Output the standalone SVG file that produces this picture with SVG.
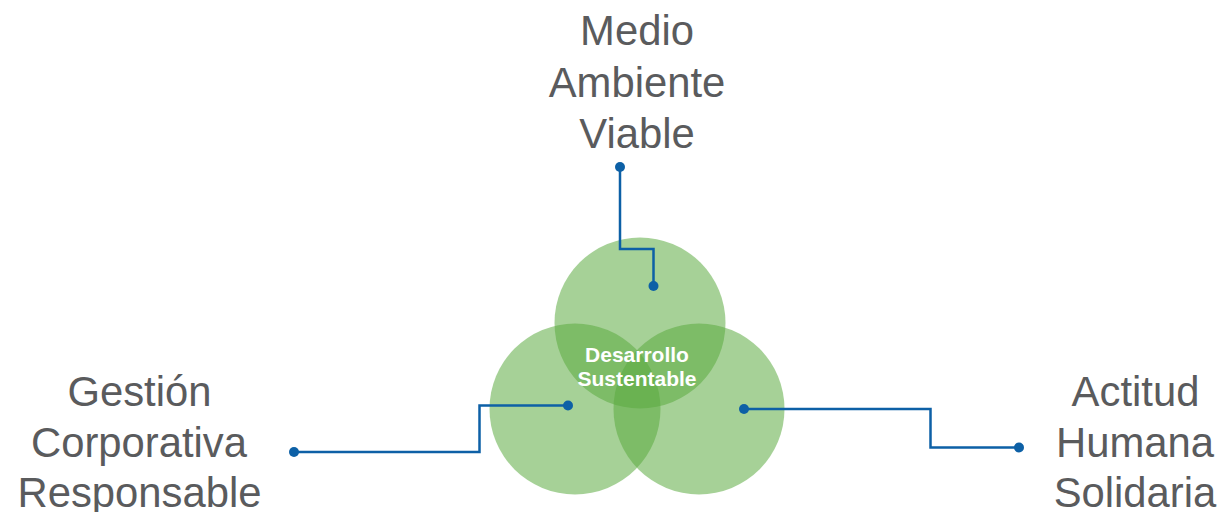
<svg xmlns="http://www.w3.org/2000/svg" width="1222" height="512" viewBox="0 0 1222 512">
<style>
.lbl{font-family:"Liberation Sans",Arial,sans-serif;font-size:41.8px;fill:#5a5b5d;text-anchor:middle}
.ctr{font-family:"Liberation Sans",Arial,sans-serif;font-size:21px;font-weight:bold;fill:#ffffff;text-anchor:middle}
.circ{fill:rgb(90,170,62);fill-opacity:0.54}
.con{fill:none;stroke:#0d60a6;stroke-width:2.5}
.dot{fill:#0d60a6}
</style>
<rect width="1222" height="512" fill="#ffffff"/>
<g id="venn">
<circle class="circ" cx="640" cy="323" r="85.5"/>
<circle class="circ" cx="575" cy="409" r="85.5"/>
<circle class="circ" cx="699" cy="409" r="85.5"/>
</g>
<g id="center">
<text class="ctr" x="637" y="362">Desarrollo</text>
<text class="ctr" x="637" y="386">Sustentable</text>
</g>
<g id="connectors">
<polyline class="con" points="620,168 620,249 653.5,249 653.5,286"/>
<circle class="dot" cx="620" cy="167" r="5"/>
<circle class="dot" cx="653.5" cy="286" r="5"/>
<polyline class="con" points="294,452 479.5,452 479.5,405.5 568,405.5"/>
<circle class="dot" cx="294" cy="452" r="5"/>
<circle class="dot" cx="568" cy="405.5" r="5"/>
<polyline class="con" points="744,409 930.5,409 930.5,447.5 1019,447.5"/>
<circle class="dot" cx="744" cy="409" r="5"/>
<circle class="dot" cx="1019" cy="447.5" r="5"/>
</g>
<g id="medio">
<text class="lbl" x="637" y="45">Medio</text>
<text class="lbl" x="637" y="96.5">Ambiente</text>
<text class="lbl" x="637" y="148">Viable</text>
</g>
<g id="gestion">
<text class="lbl" x="139.5" y="405.5">Gestión</text>
<text class="lbl" x="139" y="456.5">Corporativa</text>
<text class="lbl" x="139.5" y="506.5">Responsable</text>
</g>
<g id="actitud">
<text class="lbl" x="1135.5" y="405.5">Actitud</text>
<text class="lbl" x="1135" y="456.5">Humana</text>
<text class="lbl" x="1135" y="506.5">Solidaria</text>
</g>
</svg>
